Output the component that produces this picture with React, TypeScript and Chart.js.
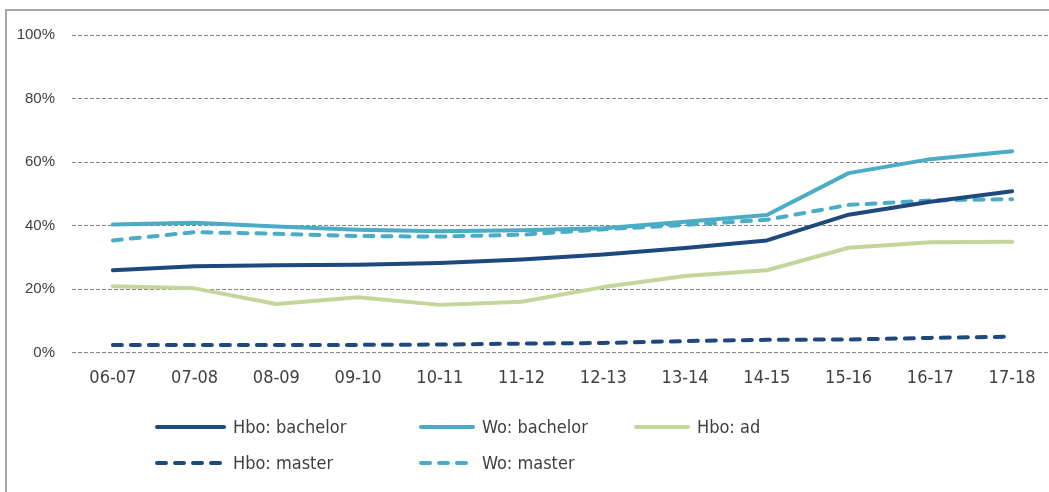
import React, { useEffect, useRef } from "react";
import { Chart, registerables } from "chart.js";

Chart.register(...registerables);

const categories = ["06-07", "07-08", "08-09", "09-10", "10-11", "11-12", "12-13", "13-14", "14-15", "15-16", "16-17", "17-18"];
const hboBachelor = [25.9, 27.2, 27.5, 27.6, 28.2, 29.3, 30.9, 32.9, 35.3, 43.4, 47.5, 50.8];
const woBachelor = [40.3, 40.9, 39.7, 38.7, 38.2, 38.5, 39.1, 41.2, 43.3, 56.5, 60.9, 63.4];
const hboAd = [20.9, 20.2, 15.3, 17.4, 15.0, 16.0, 20.6, 24.1, 25.9, 33.0, 34.7, 34.9];
const hboMaster = [2.4, 2.4, 2.4, 2.4, 2.5, 2.8, 3.0, 3.6, 4.0, 4.1, 4.6, 5.0];
const woMaster = [35.3, 37.9, 37.4, 36.7, 36.5, 37.1, 38.8, 40.2, 41.8, 46.5, 47.9, 48.3];
const seriesLabels = ["Hbo: bachelor", "Wo: bachelor", "Hbo: ad", "Hbo: master", "Wo: master"];
const yTicks = [0, 20, 40, 60, 80, 100];

const NAVY = "#1f497d";
const BLUE = "#4bacc6";
const GREEN = "#c3d69b";
const TEXT = "#404040";
const LABEL_FONT = '"DejaVu Sans Condensed", "DejaVu Sans", sans-serif';

const legendSlots = [
  { x: 155, y: 427, len: 71 },
  { x: 419, y: 427, len: 56 },
  { x: 634, y: 427, len: 56 },
  { x: 155, y: 463, len: 71 },
  { x: 419, y: 463, len: 56 },
];

const legendPlugin = {
  id: "gridLegend",
  afterDraw(chart: any) {
    const ctx = chart.ctx;
    chart.data.datasets.forEach((ds: any, i: number) => {
      const s = legendSlots[i];
      if (!s) return;
      ctx.save();
      ctx.strokeStyle = ds.borderColor;
      ctx.lineWidth = ds.borderWidth;
      ctx.lineCap = "round";
      ctx.setLineDash(ds.borderDash || []);
      ctx.beginPath();
      ctx.moveTo(s.x + 2, s.y);
      ctx.lineTo(s.x + s.len - 2, s.y);
      ctx.stroke();
      ctx.setLineDash([]);
      ctx.fillStyle = TEXT;
      ctx.font = "18px " + LABEL_FONT;
      ctx.textBaseline = "middle";
      ctx.textAlign = "left";
      ctx.fillText(ds.label, s.x + s.len + 7, s.y + 1);
      ctx.restore();
    });
  },
};

export default function App() {
  const ref = useRef<HTMLCanvasElement>(null);
  useEffect(() => {
    if (!ref.current) return;
    const mk = (label: string, data: number[], color: string, dash?: number[]) => ({
      label,
      data,
      borderColor: color,
      backgroundColor: color,
      borderWidth: 4,
      borderDash: dash || [],
      borderCapStyle: "round" as const,
      borderJoinStyle: "round" as const,
      pointRadius: 0,
      tension: 0,
      fill: false,
    });
    const chart = new Chart(ref.current, {
      type: "line",
      data: {
        labels: categories,
        datasets: [
          mk(seriesLabels[0], hboBachelor, NAVY),
          mk(seriesLabels[1], woBachelor, BLUE),
          mk(seriesLabels[2], hboAd, GREEN),
          mk(seriesLabels[3], hboMaster, NAVY, [9, 9]),
          mk(seriesLabels[4], woMaster, BLUE, [9, 9]),
        ],
      },
      options: {
        animation: false,
        responsive: false,
        devicePixelRatio: 1,
        layout: { padding: { left: 0, right: 47, top: 35, bottom: 99.5 } },
        plugins: { legend: { display: false }, tooltip: { enabled: false } },
        scales: {
          x: {
            offset: true,
            grid: { display: false, drawTicks: false },
            border: { display: false },
            ticks: {
              color: TEXT,
              font: { family: LABEL_FONT, size: 18 },
              padding: 15,
              maxRotation: 0,
              autoSkip: false,
            },
            afterFit: (s: any) => {
              s.height = 40;
            },
          },
          y: {
            min: 0,
            max: 100,
            afterBuildTicks: (s: any) => {
              s.ticks = yTicks.map((v) => ({ value: v }));
            },
            grid: { color: "#868686", lineWidth: 1, drawTicks: false },
            border: { display: false, dash: [4, 2] },
            ticks: {
              color: TEXT,
              font: { family: '"Liberation Sans", Arial, sans-serif', size: 15 },
              padding: 17,
              callback: (v: any) => v + "%",
            },
            afterFit: (s: any) => {
              s.width = 72;
            },
          },
        },
      },
      plugins: [legendPlugin],
    });
    return () => chart.destroy();
  }, []);

  return (
    <div
      style={{
        position: "fixed",
        left: 0,
        top: 0,
        width: 1049,
        height: 492,
        overflow: "hidden",
        background: "#fff",
      }}
    >
      <div
        style={{
          position: "absolute",
          left: 5,
          top: 9,
          width: 1200,
          height: 600,
          border: "2px solid #a6a6a6",
          boxSizing: "border-box",
        }}
      />
      <canvas
        ref={ref}
        width={1100}
        height={492}
        style={{ position: "absolute", left: 0, top: 0, width: 1100, height: 492 }}
      />
    </div>
  );
}
